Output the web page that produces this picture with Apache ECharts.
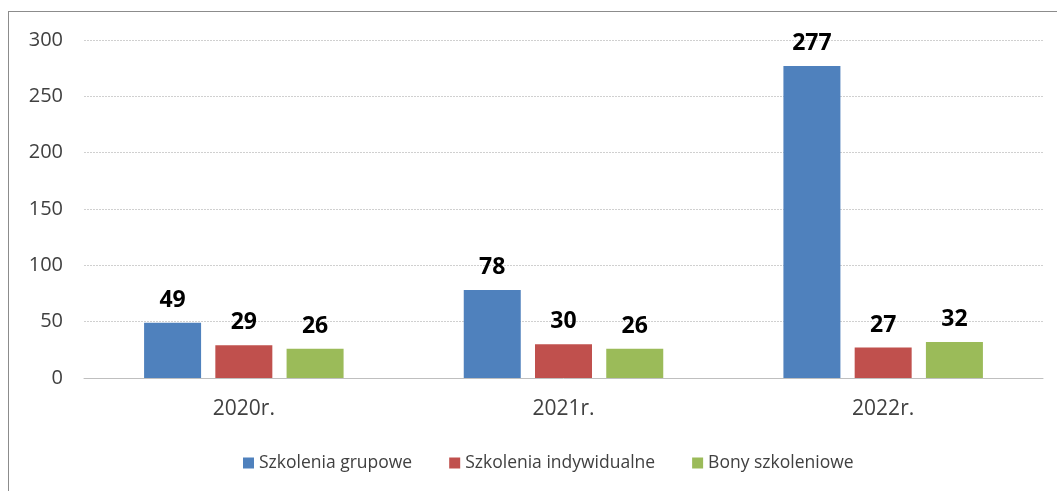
<!DOCTYPE html>
<html>
<head>
<meta charset="utf-8">
<script src="https://cdn.jsdelivr.net/npm/echarts@6/dist/echarts.min.js"></script>
<style>
html, body { margin: 0; padding: 0; background: #fff; overflow: hidden; }
#frame { position: absolute; left: 8px; top: 11px; width: 1100px; height: 600px; border-left: 1px solid #8c8c8c; border-top: 1px solid #8c8c8c; }
#chart { position: absolute; left: 0; top: 0; width: 1057px; height: 491px; }
</style>
</head>
<body>
<div id="frame"></div>
<div id="chart"></div>
<script>
var years = ["2020r.", "2021r.", "2022r."];
var seriesNames = ["Szkolenia grupowe", "Szkolenia indywidualne", "Bony szkoleniowe"];
var grupowe = [49, 78, 277];
var indywidualne = [29, 30, 27];
var bony = [26, 26, 32];
var yTicks = [0, 50, 100, 150, 200, 250, 300];

var colors = ["#4f81bd", "#c0504d", "#9bbb59"];
var font = "'Open Sans', sans-serif";

var chart = echarts.init(document.getElementById("chart"));

function makeSeries(name, data, color) {
	return {
		name: name,
		type: "bar",
		data: data,
		barWidth: 57,
		barGap: "25%",
		itemStyle: { color: color },
		label: {
			show: true,
			position: "top",
			distance: 11,
			color: "#000",
			fontWeight: "bold",
			fontSize: 23,
			fontFamily: font,
		},
	};
}

chart.setOption({
	animation: false,
	textStyle: { fontFamily: font },
	grid: { left: 84, right: 14, top: 40, bottom: 113 },
	legend: {
		top: 449,
		left: 238,
		itemWidth: 11,
		itemHeight: 11,
		itemGap: 37,
		icon: "rect",
		textStyle: { fontSize: 17.5, color: "#404040", fontFamily: font },
		data: seriesNames,
	},
	xAxis: {
		type: "category",
		data: years,
		axisLine: { lineStyle: { color: "#bfbfbf", width: 1 } },
		axisTick: { show: false },
		axisLabel: { fontSize: 21, color: "#404040", margin: 21 },
	},
	yAxis: {
		type: "value",
		min: yTicks[0],
		max: yTicks[yTicks.length - 1],
		interval: 50,
		axisLine: { show: false },
		axisTick: { show: false },
		axisLabel: { fontSize: 20, color: "#404040", margin: 21 },
		splitLine: { lineStyle: { color: "#d0d0d0", width: 1, type: [2, 1] } },
	},
	series: [
		makeSeries(seriesNames[0], grupowe, colors[0]),
		makeSeries(seriesNames[1], indywidualne, colors[1]),
		makeSeries(seriesNames[2], bony, colors[2]),
	],
});
</script>
</body>
</html>
